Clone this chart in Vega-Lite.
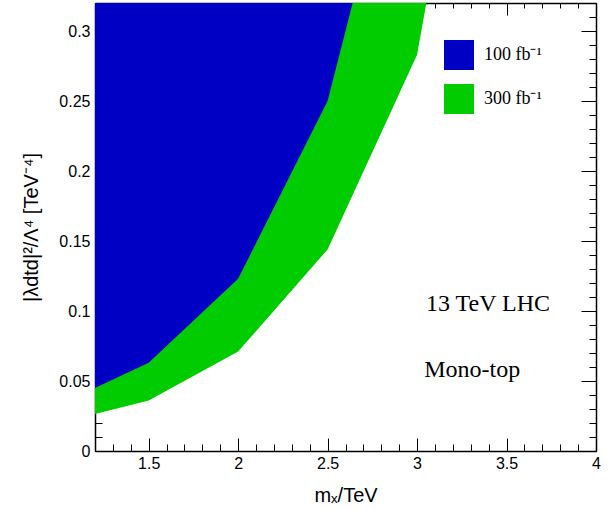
{
  "$schema": "https://vega.github.io/schema/vega-lite/v6.json",
  "width": 501,
  "height": 448,
  "autosize": {"type": "none"},
  "padding": {"left": 95, "top": 3, "right": 17, "bottom": 59},
  "background": "white",
  "config": {
    "view": {"stroke": "black", "strokeWidth": 1},
    "axis": {
      "labelFont": "Liberation Sans",
      "labelFontSize": 16,
      "labelColor": "black",
      "titleFont": "Liberation Sans",
      "titleFontSize": 20,
      "titleFontWeight": "normal",
      "titleColor": "black",
      "domainColor": "black",
      "domainWidth": 1.5,
      "tickColor": "black",
      "grid": false,
      "format": "~g"
    }
  },
  "data": {
    "values": [
      {"m": 1.2, "lim": 0.0265, "lumi": "300 fb⁻¹"},
      {"m": 1.5, "lim": 0.036, "lumi": "300 fb⁻¹"},
      {"m": 2.0, "lim": 0.071, "lumi": "300 fb⁻¹"},
      {"m": 2.5, "lim": 0.144, "lumi": "300 fb⁻¹"},
      {"m": 3.0, "lim": 0.283, "lumi": "300 fb⁻¹"},
      {"m": 3.5, "lim": 0.64, "lumi": "300 fb⁻¹"},
      {"m": 1.2, "lim": 0.045, "lumi": "100 fb⁻¹"},
      {"m": 1.5, "lim": 0.063, "lumi": "100 fb⁻¹"},
      {"m": 2.0, "lim": 0.123, "lumi": "100 fb⁻¹"},
      {"m": 2.5, "lim": 0.25, "lumi": "100 fb⁻¹"},
      {"m": 3.0, "lim": 0.5, "lumi": "100 fb⁻¹"}
    ]
  },
  "resolve": {"axis": {"x": "independent", "y": "independent"}},
  "layer": [
    {
      "transform": [{"filter": "datum.lumi == '300 fb⁻¹'"}],
      "mark": {"type": "area", "clip": true, "opacity": 1},
      "encoding": {
        "x": {
          "field": "m", "type": "quantitative",
          "scale": {"domain": [1.2, 4], "nice": false, "zero": false},
          "axis": {
            "orient": "bottom",
            "title": "mₓ/TeV",
            "titlePadding": 8,
            "values": [1.2,1.3,1.4,1.5,1.6,1.7,1.8,1.9,2.0,2.1,2.2,2.3,2.4,2.5,2.6,2.7,2.8,2.9,3.0,3.1,3.2,3.3,3.4,3.5,3.6,3.7,3.8,3.9,4.0],
            "labelExpr": "round(datum.value*10) % 5 == 0 ? datum.label : ''",
            "tickSize": {"condition": {"test": "round(datum.value*10) % 5 == 0", "value": -13}, "value": -7},
            "labelPadding": 17,
            "labelFlush": false,
            "labelOverlap": false
          }
        },
        "y": {
          "field": "lim", "type": "quantitative",
          "scale": {"domain": [0, 0.32], "nice": false},
          "axis": {
            "orient": "left",
            "title": "|λdtd|²/Λ⁴ [TeV⁻⁴]",
            "titlePadding": 17,
            "values": [0,0.01,0.02,0.03,0.04,0.05,0.06,0.07,0.08,0.09,0.1,0.11,0.12,0.13,0.14,0.15,0.16,0.17,0.18,0.19,0.2,0.21,0.22,0.23,0.24,0.25,0.26,0.27,0.28,0.29,0.3,0.31,0.32],
            "labelExpr": "round(datum.value*100) % 5 == 0 ? datum.label : ''",
            "tickSize": {"condition": {"test": "round(datum.value*100) % 5 == 0", "value": -15}, "value": -7},
            "labelPadding": 20,
            "labelFlush": false,
            "labelOverlap": false
          }
        },
        "y2": {"datum": 0.32},
        "color": {
          "field": "lumi", "type": "nominal",
          "scale": {"domain": ["100 fb⁻¹", "300 fb⁻¹"], "range": ["#0000C4", "#00CC00"]},
          "legend": {
            "orient": "none",
            "legendX": 349,
            "legendY": 37,
            "title": null,
            "padding": 0,
            "symbolType": "square",
            "symbolSize": 900,
            "symbolOpacity": 1,
            "symbolStrokeWidth": 0,
            "labelFont": "Liberation Serif",
            "labelFontSize": 18,
            "labelColor": "black",
            "labelOffset": 10,
            "rowPadding": 14
          }
        }
      }
    },
    {
      "transform": [{"filter": "datum.lumi == '100 fb⁻¹'"}],
      "mark": {"type": "area", "clip": true, "opacity": 1},
      "encoding": {
        "x": {
          "field": "m", "type": "quantitative",
          "axis": {
            "orient": "top",
            "title": null,
            "values": [1.2,1.3,1.4,1.5,1.6,1.7,1.8,1.9,2.0,2.1,2.2,2.3,2.4,2.5,2.6,2.7,2.8,2.9,3.0,3.1,3.2,3.3,3.4,3.5,3.6,3.7,3.8,3.9,4.0],
            "labels": false,
            "tickSize": {"condition": {"test": "round(datum.value*10) % 5 == 0", "value": -12}, "value": -5}
          }
        },
        "y": {
          "field": "lim", "type": "quantitative",
          "axis": {
            "orient": "right",
            "title": null,
            "values": [0,0.01,0.02,0.03,0.04,0.05,0.06,0.07,0.08,0.09,0.1,0.11,0.12,0.13,0.14,0.15,0.16,0.17,0.18,0.19,0.2,0.21,0.22,0.23,0.24,0.25,0.26,0.27,0.28,0.29,0.3,0.31,0.32],
            "labels": false,
            "tickSize": {"condition": {"test": "round(datum.value*100) % 5 == 0", "value": -15}, "value": -7}
          }
        },
        "y2": {"datum": 0.32},
        "color": {"field": "lumi", "type": "nominal"}
      }
    },
    {
      "data": {
        "values": [
          {"m": 3.05, "v": 0.1, "txt": "13 TeV LHC"},
          {"m": 3.04, "v": 0.053, "txt": "Mono-top"}
        ]
      },
      "mark": {"type": "text", "align": "left", "baseline": "alphabetic", "font": "Liberation Serif", "fontSize": 24, "color": "black"},
      "encoding": {
        "x": {"field": "m", "type": "quantitative", "axis": null},
        "y": {"field": "v", "type": "quantitative", "axis": null},
        "text": {"field": "txt"}
      }
    }
  ]
}
